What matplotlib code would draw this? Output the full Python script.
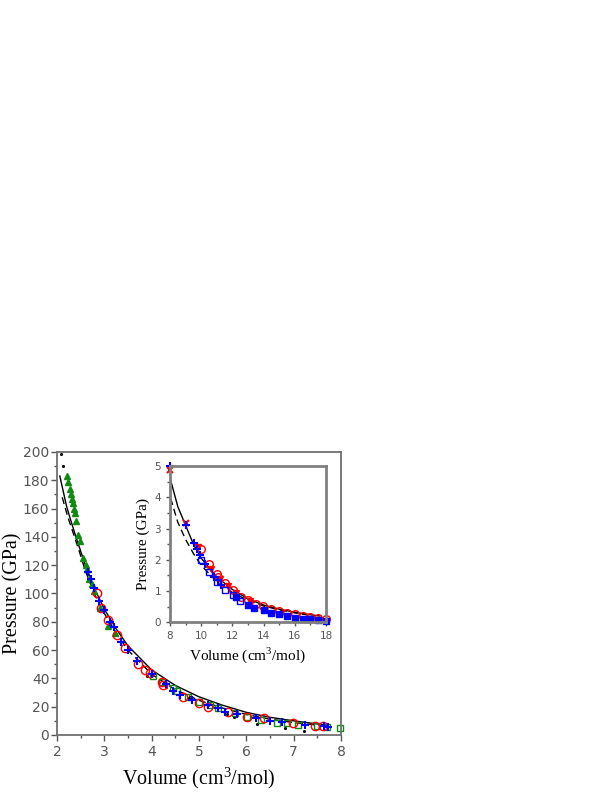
import numpy as np
import matplotlib
matplotlib.use("Agg")
import matplotlib.pyplot as plt
from matplotlib.ticker import MultipleLocator

plt.rcParams['mathtext.fontset'] = 'custom'
plt.rcParams['mathtext.rm'] = 'Liberation Serif'

# %% main panel data (V in cm3/mol, P in GPa)

tri_v = [2.22, 2.24, 2.27, 2.29, 2.31, 2.33, 2.37, 2.38, 2.40, 2.45, 2.49, 2.56, 2.61, 2.64,
         2.68, 2.73, 2.78, 2.91, 3.08, 3.22]
tri_p = [183, 179, 174, 170, 167, 164, 160, 157, 151, 141, 137, 125, 120, 117,
         110, 107, 102, 90, 77, 72]

sq_v = [4.02, 4.21, 4.46, 4.54, 4.77, 5.01, 5.23, 5.41, 5.76, 6.01, 6.32, 6.64, 6.85, 7.10,
        7.49, 7.70, 7.98]
sq_p = [42, 37.7, 33, 31.3, 26.5, 23.5, 21, 19, 15.3, 13, 10.6, 8.7, 8.2, 7.0,
        6.4, 5.9, 4.7]

circ_v = [2.84, 2.94, 3.07, 3.26, 3.44, 3.72, 3.86, 3.96, 4.21, 4.25, 4.67, 5.01, 5.20, 5.62,
          6.01, 6.38, 6.98, 7.45, 7.63]
circ_p = [100, 90, 81, 70.7, 61.3, 50, 46, 43.6, 37.7, 35, 27, 22.4, 20, 16.5,
          13, 11.8, 8.2, 6.6, 6.4]

plus_v = [2.66, 2.72, 2.78, 2.88, 3.00, 3.12, 3.20, 3.35, 3.50, 3.70, 4.00, 4.30, 4.45, 4.60,
          4.85, 5.20, 5.40, 5.55, 5.80, 6.20, 6.50, 6.75, 7.25, 7.65, 7.72]
plus_p = [115, 110, 104, 95, 88, 80, 76, 66, 60, 52, 43, 36, 31, 28,
          25, 21, 19, 16.5, 15, 12, 10, 9, 7, 6, 5.5]

dot_v = [2.08, 2.13, 3.9, 4.3, 4.8, 5.2, 5.6, 5.75, 6.22, 6.82, 7.22]
dot_p = [198.5, 190, 42, 34, 26, 21, 15, 13, 8, 5, 3]

fit_v = [2.06, 2.2, 2.27, 2.4, 2.49, 2.6, 2.8, 3.0, 3.25, 3.5, 4.0, 4.5, 5.0, 5.5, 6.0, 6.5,
         7.0, 7.5, 7.7]
fit_p = [183, 162, 154, 140, 131, 120, 103, 89, 75, 63, 46, 35, 27, 21, 16, 12.5,
         10, 7.8, 7]

dash_v = [2.11, 2.23, 2.46, 2.6, 2.8, 3.0, 3.25, 3.5, 4.0, 4.5, 5.0, 5.5, 6.0, 6.5, 7.0,
          7.5, 7.7]
dash_p = [168, 154, 131, 116, 99, 86, 72, 60, 43, 32, 24.5, 19, 14.5, 11.2, 8.8,
          7, 6.4]

# %% inset data

i_circ_v = [9.99, 10.52, 11.0, 11.06, 11.53, 12.02, 12.55, 12.98, 13.5, 13.98, 14.5, 15.0,
            15.5, 16.0, 16.5, 17.0, 17.5, 18.0]
i_circ_p = [2.33, 1.86, 1.54, 1.46, 1.25, 1.03, 0.82, 0.71, 0.59, 0.52, 0.42, 0.35,
            0.3, 0.25, 0.2, 0.17, 0.13, 0.1]

i_tri_v = [9.8, 10.63, 11.2, 11.7, 12.2, 13.1]
i_tri_p = [2.4, 1.7, 1.38, 1.15, 0.95, 0.68]

i_x_v = [8.0, 9.03]
i_x_p = [4.87, 3.19]

i_plus_v = [8.0, 9.03, 9.56, 9.71, 9.92, 10.24, 10.84, 11.1, 11.3]
i_plus_p = [5.0, 3.12, 2.55, 2.33, 2.15, 1.85, 1.46, 1.35, 1.2]

i_osq_v = [9.99, 10.52, 11.0, 11.5, 12.02, 12.49]
i_osq_p = [1.99, 1.6, 1.3, 1.03, 0.87, 0.69]

i_fsq_v = [12.2, 13.0, 13.4, 14.0, 14.5, 15.0, 15.5, 16.0, 16.5, 17.0, 17.5, 18.0]
i_fsq_p = [0.8, 0.55, 0.45, 0.4, 0.3, 0.25, 0.2, 0.15, 0.12, 0.1, 0.07, 0.05]

i_fit_v = [8.04, 8.5, 9.0, 9.5, 10.0, 11.0, 12.0, 13.0, 14.0, 15.0, 16.0, 17.0, 17.6]
i_fit_p = [4.55, 3.7, 3.1, 2.5, 2.05, 1.45, 1.05, 0.75, 0.55, 0.42, 0.32, 0.24, 0.2]

i_dash_v = [8.04, 8.5, 9.0, 9.5, 10.0, 11.0, 12.0, 13.0, 14.0, 15.0, 16.0, 17.0]
i_dash_p = [3.97, 3.2, 2.65, 2.2, 1.82, 1.3, 0.95, 0.7, 0.52, 0.4, 0.3, 0.22]

red = '#ff0000'
blue = '#0000ff'
green = '#108a10'
grey = '#555555'

fig = plt.figure(figsize=(6.12, 7.92), dpi=100)

# %% main axes

ax = fig.add_axes([0.0931, 0.072, 0.464, 0.3573])
ax.plot(fit_v, fit_p, '-', color='k', lw=1.0)
ax.plot(dash_v, dash_p, '--', color='k', lw=1.0, dashes=(5, 3))
ax.plot(dot_v, dot_p, '.', color='k', ms=2.5)
ax.plot(tri_v, tri_p, '^', color=green, ms=4.5, ls='none')
ax.plot(sq_v, sq_p, 's', mfc='none', mec=green, mew=1.0, ms=5, ls='none', clip_on=False)
ax.plot(circ_v, circ_p, 'o', mfc='none', mec=red, mew=1.0, ms=6, ls='none')
ax.plot(plus_v, plus_p, '+', color=blue, mew=1.5, ms=6, ls='none')

ax.set_xlim(2, 8)
ax.set_ylim(0, 200)
ax.xaxis.set_major_locator(MultipleLocator(1))
ax.xaxis.set_minor_locator(MultipleLocator(0.5))
ax.yaxis.set_major_locator(MultipleLocator(20))
ax.yaxis.set_minor_locator(MultipleLocator(10))
ax.tick_params(which='both', direction='out', colors=grey, labelsize=10,
               top=False, right=False)
ax.tick_params(which='major', length=4, width=1)
ax.tick_params(axis='y', which='major', pad=1.5)
ax.tick_params(which='minor', length=2.5, width=1)
for s in ax.spines.values():
    s.set_color('#707070')
    s.set_linewidth(1.3)
ax.set_xlabel(r'Volume (cm$^3$/mol)', family='Liberation Serif', fontsize=14.5, labelpad=4)
ax.set_ylabel('Pressure (GPa)', family='Liberation Serif', fontsize=14.5)
ax.yaxis.set_label_coords(-0.123, 0.5)

# %% inset

ins = fig.add_axes([0.2778, 0.2143, 0.2549, 0.1973])
ins.plot(i_fit_v, i_fit_p, '-', color='k', lw=1.0)
ins.plot(i_dash_v, i_dash_p, '--', color='k', lw=1.0, dashes=(5, 3))
ins.plot(i_circ_v, i_circ_p, 'o', mfc='none', mec=red, mew=1.0, ms=5.5, ls='none', clip_on=False)
ins.plot(i_tri_v, i_tri_p, 'v', color=red, ms=4, ls='none')
ins.plot(i_x_v, i_x_p, 'x', color=red, mew=1.5, ms=4, ls='none', clip_on=False)
ins.plot(i_osq_v, i_osq_p, 's', mfc='none', mec=blue, mew=1.0, ms=4.5, ls='none')
ins.plot(i_fsq_v, i_fsq_p, 's', color=blue, ms=4, ls='none', clip_on=False)
ins.plot(i_plus_v, i_plus_p, '+', color=blue, mew=1.5, ms=5.5, ls='none', clip_on=False)

ins.set_xlim(8, 18)
ins.set_ylim(0, 5)
ins.xaxis.set_major_locator(MultipleLocator(2))
ins.xaxis.set_minor_locator(MultipleLocator(1))
ins.yaxis.set_major_locator(MultipleLocator(1))
ins.yaxis.set_minor_locator(MultipleLocator(0.5))
ins.tick_params(which='both', direction='out', colors=grey, labelsize=7.5,
                top=False, right=False)
ins.tick_params(which='major', length=3, width=1)
ins.tick_params(which='minor', length=2, width=1)
for s in ins.spines.values():
    s.set_color('#808080')
    s.set_linewidth(2.0)
ins.set_xlabel(r'Volume (cm$^3$/mol)', family='Liberation Serif', fontsize=11, labelpad=3)
ins.set_ylabel('Pressure (GPa)', family='Liberation Serif', fontsize=11, labelpad=3)

fig.savefig('out.png', dpi=100)
